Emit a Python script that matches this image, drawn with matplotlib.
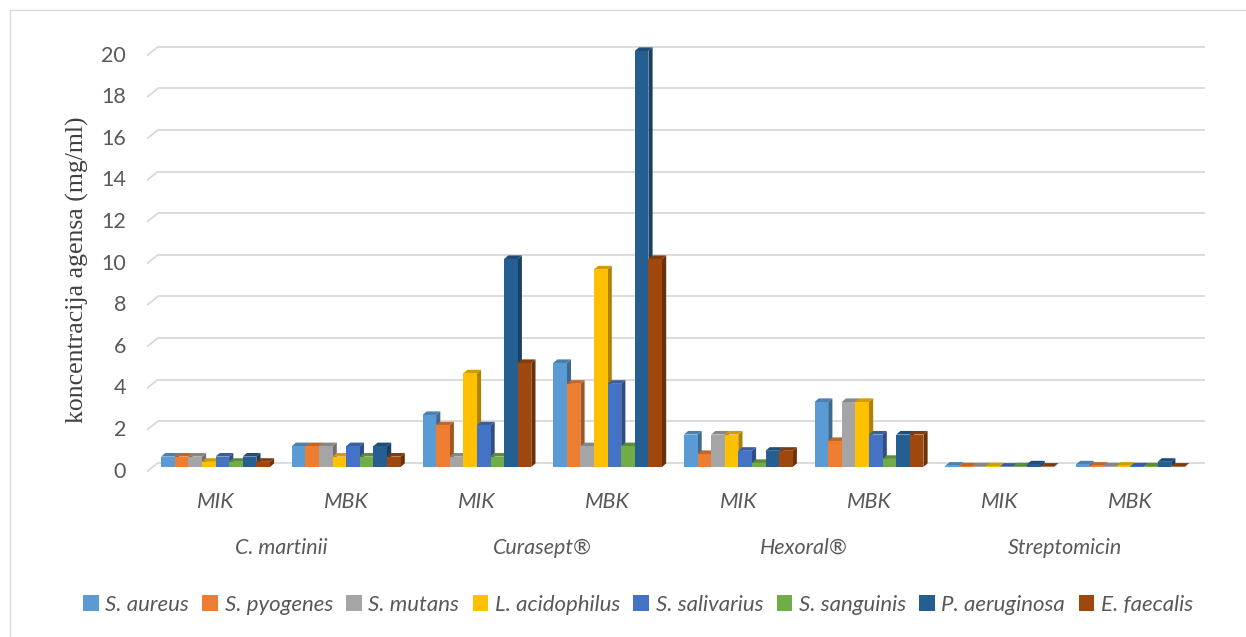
import matplotlib
matplotlib.use("Agg")
import matplotlib.pyplot as plt
from matplotlib.patches import Polygon, Patch, Rectangle
from matplotlib.transforms import blended_transform_factory
import numpy as np

# ---------------- data ----------------
groups = ["C. martinii", "Curasept®", "Hexoral®", "Streptomicin"]
subcats = ["MIK", "MBK"]
series = ["S. aureus", "S. pyogenes", "S. mutans", "L. acidophilus",
          "S. salivarius", "S. sanguinis", "P. aeruginosa", "E. faecalis"]
colors = ["#5B9BD5", "#ED7D31", "#A5A5A5", "#FFC000",
          "#4472C4", "#70AD47", "#255E91", "#9E480E"]

s_aureus      = [0.5, 1.0, 2.5, 5.0, 1.56, 3.125, 0.06, 0.125]
s_pyogenes    = [0.5, 1.0, 2.0, 4.0, 0.625, 1.25, 0.03, 0.06]
s_mutans      = [0.5, 1.0, 0.5, 1.0, 1.56, 3.125, 0.03, 0.03]
l_acidophilus = [0.25, 0.5, 4.5, 9.5, 1.56, 3.125, 0.03, 0.06]
s_salivarius  = [0.5, 1.0, 2.0, 4.0, 0.78, 1.56, 0.015, 0.03]
s_sanguinis   = [0.25, 0.5, 0.5, 1.0, 0.195, 0.39, 0.03, 0.03]
p_aeruginosa  = [0.5, 1.0, 10.0, 20.0, 0.78, 1.56, 0.125, 0.25]
e_faecalis    = [0.25, 0.5, 5.0, 10.0, 0.78, 1.56, 0.015, 0.015]
values = [s_aureus, s_pyogenes, s_mutans, l_acidophilus,
          s_salivarius, s_sanguinis, p_aeruginosa, e_faecalis]

yticks = list(range(0, 21, 2))
ylabel = "koncentracija agensa (mg/ml)"

# ---------------- layout ----------------
W, H = 1246, 637
fig = plt.figure(figsize=(W / 100, H / 100), dpi=100)
fig.patch.set_facecolor("white")

px_unit_x = 130.7      # pixels per cluster
px_unit_y = 20.8       # pixels per value unit
x0_pix = 215.5         # pixel of cluster 0 center
y0_pix = 467.0         # pixel (from top) of value 0 at bar plane

ax_l, ax_r, ax_t, ax_b = 140, 1210, 40, 478
ax = fig.add_axes([ax_l / W, (H - ax_b) / H, (ax_r - ax_l) / W, (ax_b - ax_t) / H])
ax.set_xlim((ax_l - x0_pix) / px_unit_x, (ax_r - x0_pix) / px_unit_x)
ax.set_ylim((y0_pix - ax_b) / px_unit_y, (y0_pix - ax_t) / px_unit_y)
ax.axis("off")

grid_c = "#D9D9D9"
front_dy = -4.5 / px_unit_y
back_dy = 4.3 / px_unit_y
front_x = (147 - x0_pix) / px_unit_x
back_x0 = (158 - x0_pix) / px_unit_x
back_x1 = (1205 - x0_pix) / px_unit_x
for v in yticks:
    ax.plot([front_x, back_x0], [v + front_dy, v + back_dy], color=grid_c, lw=1.3,
            solid_capstyle="butt", zorder=1)
    ax.plot([back_x0, back_x1], [v + back_dy, v + back_dy], color=grid_c, lw=1.3,
            solid_capstyle="butt", zorder=1)
    ax.text((126 - x0_pix) / px_unit_x, v + front_dy, str(v), ha="right", va="center",
            fontsize=15.5, color="#595959", family="Lato")


def shade(c, f):
    c = np.array(matplotlib.colors.to_rgb(c))
    return tuple(c * f)


bw = 13.6 / px_unit_x
ddx = 4.2 / px_unit_x
ddy = 3.6 / px_unit_y
n = len(series)
centers = np.arange(len(groups) * len(subcats))
for i, (vals, col) in enumerate(zip(values, colors)):
    xs = centers + (i - (n - 1) / 2) * bw
    for x, v in zip(xs, vals):
        l, r = x - bw / 2, x + bw / 2
        z = 3 + i * 0.01
        ax.add_patch(Polygon([[r, 0], [r + ddx, ddy], [r + ddx, v + ddy], [r, v]],
                             closed=True, fc=shade(col, 0.68), ec="none", zorder=z))
        ax.add_patch(Polygon([[l, v], [l + ddx, v + ddy], [r + ddx, v + ddy], [r, v]],
                             closed=True, fc=shade(col, 0.82), ec="none", zorder=z))
    ax.bar(xs, vals, width=bw, color=col, edgecolor="none", zorder=3 + i * 0.01 + 0.005)

# category labels
tr = blended_transform_factory(ax.transData, fig.transFigure)
for k, c in enumerate(centers):
    ax.text(c, (H - 502) / H, subcats[k % 2], transform=tr, ha="center", va="center",
            fontsize=15.5, style="italic", color="#595959", family="Lato")
for g, name in enumerate(groups):
    ax.text(2 * g + 0.5, (H - 548) / H, name, transform=tr, ha="center", va="center",
            fontsize=15.5, style="italic", color="#595959", family="Lato")

fig.text(77 / W, (H - 270) / H, ylabel, rotation=90, ha="center", va="center",
         fontsize=18.5, family="Liberation Serif", color="#404040")

handles = [Patch(facecolor=c, edgecolor="none") for c in colors]
leg = fig.legend(handles, series, loc="center", bbox_to_anchor=(638 / W, (H - 605) / H),
                 ncol=8, frameon=False, handlelength=0.7, handleheight=0.7,
                 handletextpad=0.3, columnspacing=0.6,
                 prop={"family": "Lato", "style": "italic", "size": 16})
for t in leg.get_texts():
    t.set_color("#595959")

fig.patches.append(Rectangle((10 / W, -0.1), 1.2, (H - 10) / H + 0.1,
                             transform=fig.transFigure, fill=False,
                             ec="#D9D9D9", lw=1.0))

fig.savefig("out.png", dpi=100)
